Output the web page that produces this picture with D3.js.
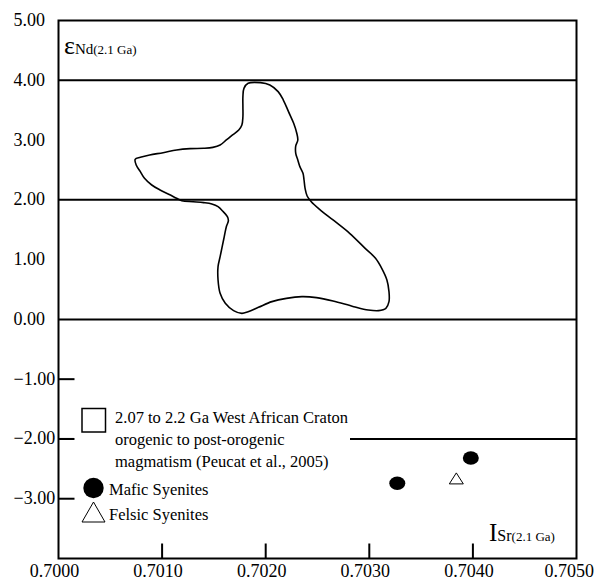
<!DOCTYPE html>
<html>
<head>
<meta charset="utf-8">
<script src="https://cdn.jsdelivr.net/npm/d3@7"></script>
<style>
  body { margin: 0; background: #fff; }
  svg { display: block; }
</style>
</head>
<body>
<svg id="chart" width="597" height="581" font-family="'Times New Roman', 'Liberation Serif', Times, 'DejaVu Serif', serif"></svg>
<script>
// Axis ticks
const xTickValues = [0.7000, 0.7010, 0.7020, 0.7030, 0.7040, 0.7050];
const xTickMarks = [0.7010, 0.7020, 0.7030, 0.7040];
const yTickValues = [5, 4, 3, 2, 1, 0, -1, -2, -3];
const yTickMarks = [-1, -2, -3];
const yRefLines = [4, 2, 0, -2];

// 2.07–2.2 Ga West African Craton field (Peucat et al., 2005): outline vertices
const fieldSr = [
  0.70179, 0.70183, 0.70195, 0.70204, 0.70212, 0.70217, 0.70222, 0.70227, 0.70230, 0.70231,
  0.70229, 0.70229, 0.70231, 0.70233, 0.70236, 0.70237, 0.70238, 0.70240, 0.70244, 0.70252,
  0.70265, 0.70281, 0.70296, 0.70306, 0.70312, 0.70317, 0.70319, 0.70319, 0.70316, 0.70309,
  0.70299, 0.70285, 0.70265, 0.70249, 0.70235, 0.70220, 0.70206, 0.70193, 0.70183, 0.70177,
  0.70169, 0.70161, 0.70156, 0.70154, 0.70154, 0.70156, 0.70158, 0.70160, 0.70162, 0.70164,
  0.70163, 0.70159, 0.70154, 0.70148, 0.70140, 0.70130, 0.70119, 0.70114, 0.70108, 0.70098,
  0.70090, 0.70083, 0.70079, 0.70075, 0.70074, 0.70079, 0.70088, 0.70101, 0.70114, 0.70127,
  0.70140, 0.70149, 0.70156, 0.70162, 0.70168, 0.70174, 0.70177, 0.70178, 0.70178, 0.70178
];
const fieldNd = [
  3.865, 3.949, 3.960, 3.921, 3.810, 3.670, 3.475, 3.280, 3.113, 3.001,
  2.901, 2.778, 2.666, 2.555, 2.443, 2.332, 2.193, 2.064, 1.969, 1.841,
  1.663, 1.440, 1.189, 1.022, 0.854, 0.659, 0.464, 0.297, 0.185, 0.146,
  0.157, 0.213, 0.308, 0.364, 0.380, 0.352, 0.297, 0.202, 0.129, 0.101,
  0.146, 0.269, 0.436, 0.659, 0.882, 1.049, 1.217, 1.384, 1.551, 1.652,
  1.719, 1.802, 1.886, 1.930, 1.953, 1.969, 1.986, 2.025, 2.081, 2.165,
  2.248, 2.360, 2.471, 2.583, 2.678, 2.711, 2.750, 2.789, 2.834, 2.856,
  2.862, 2.878, 2.917, 3.001, 3.085, 3.168, 3.252, 3.391, 3.559, 3.726
];

// Samples
const maficSr = [0.70327, 0.70398];
const maficNd = [-2.74, -2.32];
const felsicSr = [0.70384];
const felsicNd = [-2.66];

// Legend text
const fieldLabel = ["2.07 to 2.2 Ga West African Craton", "orogenic to post-orogenic", "magmatism (Peucat et al., 2005)"];
const maficLabel = "Mafic Syenites";
const felsicLabel = "Felsic Syenites";

const svg = d3.select("#chart");
const plotLeft = 58.5, plotRight = 576.5, plotTop = 20.5, plotBottom = 558.5;

const x = d3.scaleLinear().domain([0.7000, 0.7050]).range([plotLeft, plotRight]);
const y = d3.scaleLinear().domain([-4, 5]).range([plotBottom, plotTop]);

// Reference lines
svg.append("g").selectAll("line").data(yRefLines).join("line")
  .attr("x1", plotLeft).attr("x2", plotRight)
  .attr("y1", d => y(d)).attr("y2", d => y(d))
  .attr("stroke", "#000").attr("stroke-width", 2);

// Field outline
const field = fieldSr.map((s, i) => [s, fieldNd[i]]);
svg.append("path")
  .datum(field)
  .attr("d", d3.line().x(d => x(d[0])).y(d => y(d[1])).curve(d3.curveCatmullRomClosed.alpha(0.5)))
  .attr("fill", "none").attr("stroke", "#000").attr("stroke-width", 1.6);

// Legend (white backing hides the -2 reference line beneath it)
const lg = svg.append("g");
lg.append("rect").attr("x", 74).attr("y", 398).attr("width", 276).attr("height", 132).attr("fill", "#fff");
lg.append("rect").attr("x", 82).attr("y", 408.5).attr("width", 23.5).attr("height", 23.5)
  .attr("fill", "#fff").attr("stroke", "#000").attr("stroke-width", 1.5);
lg.append("text").attr("font-size", 16.5).selectAll("tspan").data(fieldLabel).join("tspan")
  .attr("x", 115).attr("y", (d, i) => 423 + i * 21.8).text(d => d);
lg.append("circle").attr("cx", 93.5).attr("cy", 488).attr("r", 10.2).attr("fill", "#000");
lg.append("text").attr("x", 109).attr("y", 495).attr("font-size", 16.5).text(maficLabel);
lg.append("path").attr("d", "M93.5,502 L105,522 L82,522 Z")
  .attr("fill", "#fff").attr("stroke", "#000").attr("stroke-width", 1);
lg.append("text").attr("x", 109).attr("y", 520).attr("font-size", 16.5).text(felsicLabel);

// Frame
svg.append("rect").attr("x", plotLeft).attr("y", plotTop)
  .attr("width", plotRight - plotLeft).attr("height", plotBottom - plotTop)
  .attr("fill", "none").attr("stroke", "#000").attr("stroke-width", 2);

// Y tick marks and labels
svg.append("g").selectAll("line").data(yTickMarks).join("line")
  .attr("x1", plotLeft).attr("x2", plotLeft + 16)
  .attr("y1", d => y(d)).attr("y2", d => y(d))
  .attr("stroke", "#000").attr("stroke-width", 2);
svg.append("g").selectAll("text").data(yTickValues).join("text")
  .attr("x", 13.5).attr("y", d => y(d) + 5.5)
  .attr("font-size", 18).text(d => d3.format(".2f")(d));

// X tick marks and labels
svg.append("g").selectAll("line").data(xTickMarks).join("line")
  .attr("x1", d => x(d)).attr("x2", d => x(d))
  .attr("y1", plotBottom).attr("y2", plotBottom - 15)
  .attr("stroke", "#000").attr("stroke-width", 2);
svg.append("g").selectAll("text").data(xTickValues).join("text")
  .attr("x", (d, i) => i === xTickValues.length - 1 ? 594 : x(d) - 4)
  .attr("text-anchor", (d, i) => i === xTickValues.length - 1 ? "end" : "middle")
  .attr("y", 577).attr("font-size", 18).text(d => d3.format(".4f")(d));

// Axis titles
const yt = svg.append("text").attr("x", 64).attr("y", 54);
yt.append("tspan").attr("font-size", 26).text("ε");
yt.append("tspan").attr("font-size", 15).text("Nd");
yt.append("tspan").attr("font-size", 13).text("(2.1 Ga)");

const xt = svg.append("text").attr("x", 489).attr("y", 540.5);
xt.append("tspan").attr("font-size", 25).text("I");
xt.append("tspan").attr("font-size", 16).text("Sr");
xt.append("tspan").attr("font-size", 13).text("(2.1 Ga)");

// Data points
svg.append("g").selectAll("ellipse").data(maficSr.map((s, i) => [s, maficNd[i]])).join("ellipse")
  .attr("cx", d => x(d[0])).attr("cy", d => y(d[1]))
  .attr("rx", 8).attr("ry", 6.7).attr("fill", "#000");
svg.append("g").selectAll("path").data(felsicSr.map((s, i) => [s, felsicNd[i]])).join("path")
  .attr("d", d => {
    const cx = x(d[0]), cy = y(d[1]);
    return `M${cx},${cy - 5.5} L${cx + 7},${cy + 5.5} L${cx - 7},${cy + 5.5} Z`;
  })
  .attr("fill", "#fff").attr("stroke", "#000").attr("stroke-width", 1);
</script>
</body>
</html>
